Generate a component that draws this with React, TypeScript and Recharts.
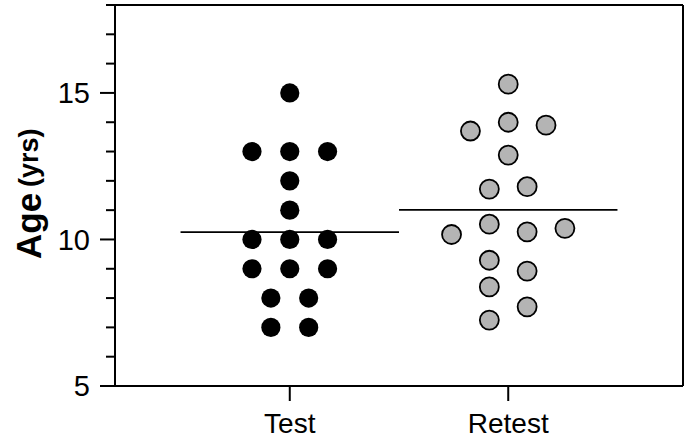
import React from 'react';
import { ScatterChart, Scatter, XAxis, YAxis, ReferenceLine } from 'recharts';

const FONT = "'Liberation Sans', Arial, Helvetica, sans-serif";

const categories = ['Test', 'Retest'];
const categoryPositions = [1, 2];

const testAges = [15, 13, 13, 13, 12, 11, 10, 10, 10, 9, 9, 9, 8, 8, 7, 7];
const testSlots = [0, -2, 0, 2, 0, 0, -2, 0, 2, -2, 0, 2, -1, 1, -1, 1];

const retestAges = [15.3, 14.0, 13.9, 13.7, 12.88, 11.8, 11.72, 10.52, 10.38, 10.26, 10.17, 9.29, 8.92, 8.38, 7.7, 7.25];
const retestSlots = [0, 0, 2, -2, 0, 1, -1, -1, 3, 1, -3, -1, 1, -1, 1, -1];

const yTicks = [5, 6, 7, 8, 9, 10, 11, 12, 13, 14, 15, 16, 17, 18];
const majorTicks = [5, 10, 15];

const SLOT = 0.0865;

const mean = (a: number[]) => a.reduce((s, v) => s + v, 0) / a.length;

const testData = testAges.map((y, i) => ({ x: categoryPositions[0] + testSlots[i] * SLOT, y }));
const retestData = retestAges.map((y, i) => ({ x: categoryPositions[1] + retestSlots[i] * SLOT, y }));
const testMean = mean(testAges);
const retestMean = mean(retestAges);

const LeftTick = (props: any) => {
  const { x, y, payload } = props;
  const major = majorTicks.includes(payload.value);
  const len = major ? 15 : 9;
  return (
    <g>
      <line x1={x - len} x2={x} y1={y} y2={y} stroke="#000" strokeWidth={2} />
      {major && (
        <text x={x - 25} y={y} dy="0.36em" textAnchor="end" fontSize={29} fontFamily={FONT} fill="#000">
          {payload.value}
        </text>
      )}
    </g>
  );
};

const RightTick = (props: any) => {
  const { x, y, payload } = props;
  const major = majorTicks.includes(payload.value);
  const len = major ? 15 : 7;
  return <line x1={x} x2={x - len} y1={y} y2={y} stroke="#000" strokeWidth={2} />;
};

const BlackDot = (props: any) => <circle cx={props.cx} cy={props.cy} r={9.6} fill="#000" />;
const GrayDot = (props: any) => (
  <circle cx={props.cx} cy={props.cy} r={9.5} fill="#b4b4b4" stroke="#000" strokeWidth={1.8} />
);

const YLabel = () => (
  <g>
    <text
      x={41}
      y={259}
      transform="rotate(-90 41 259)"
      textAnchor="start"
      fontFamily={FONT}
      fontWeight="bold"
      fontSize={35}
      fill="#000"
    >
      Age
    </text>
    <text
      x={38}
      y={187}
      transform="rotate(-90 38 187)"
      textAnchor="start"
      fontFamily={FONT}
      fontWeight="bold"
      fontSize={27}
      fill="#000"
    >
      (yrs)
    </text>
  </g>
);

export default function App() {
  return (
    <div style={{ position: 'absolute', left: 0, top: 0, width: 689, height: 440, background: '#fff' }}>
      <ScatterChart width={689} height={440} margin={{ top: 5, right: 0, bottom: 0, left: 0 }}>
        <XAxis
          type="number"
          dataKey="x"
          domain={[0.2, 2.8]}
          ticks={categoryPositions}
          interval={0}
          tickFormatter={(v: number) => categories[categoryPositions.indexOf(v)] ?? ''}
          height={54}
          tickSize={15}
          tickMargin={12}
          axisLine={{ stroke: '#000', strokeWidth: 2 }}
          tickLine={{ stroke: '#000', strokeWidth: 2 }}
          tick={{ fill: '#000', fontSize: 28, fontFamily: FONT }}
        />
        <YAxis
          yAxisId="left"
          type="number"
          dataKey="y"
          domain={[5, 18]}
          ticks={yTicks}
          interval={0}
          width={115}
          tickSize={0}
          tickMargin={0}
          tickLine={false}
          axisLine={{ stroke: '#000', strokeWidth: 2 }}
          tick={<LeftTick />}
          label={{ content: <YLabel /> }}
        />
        <YAxis
          yAxisId="right"
          orientation="right"
          type="number"
          domain={[5, 18]}
          ticks={yTicks}
          interval={0}
          width={6}
          tickSize={0}
          tickMargin={0}
          tickLine={false}
          axisLine={{ stroke: '#000', strokeWidth: 2 }}
          tick={<RightTick />}
        />
        <ReferenceLine yAxisId="left" y={18} stroke="#000" strokeWidth={2} />
        <ReferenceLine
          yAxisId="left"
          segment={[{ x: 0.5, y: testMean }, { x: 1.5, y: testMean }]}
          stroke="#000"
          strokeWidth={1.8}
        />
        <ReferenceLine
          yAxisId="left"
          segment={[{ x: 1.5, y: retestMean }, { x: 2.5, y: retestMean }]}
          stroke="#000"
          strokeWidth={1.8}
        />
        <Scatter yAxisId="left" data={testData} shape={<BlackDot />} isAnimationActive={false} />
        <Scatter yAxisId="left" data={retestData} shape={<GrayDot />} isAnimationActive={false} />
      </ScatterChart>
    </div>
  );
}
